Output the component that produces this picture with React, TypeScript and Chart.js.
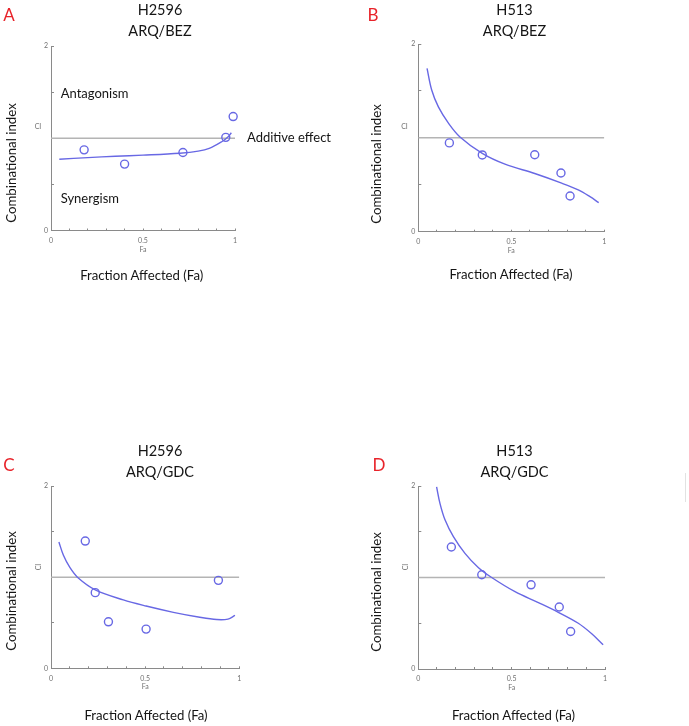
import React, { useEffect, useRef } from "react";
import { Chart, registerables } from "chart.js";

Chart.register(...registerables);

const faTickLabels = ["0", "0.5", "1"];
const ciTickLabels = ["0", "2"];
const additiveFa = [0, 1];
const additiveCi = [1, 1];

// Panel A: H2596 ARQ/BEZ
const aPointFa = [0.18, 0.4, 0.717, 0.95, 0.99];
const aPointCi = [0.874, 0.72, 0.845, 1.01, 1.235];
const aCurveFa = [0.045, 0.2, 0.35, 0.5, 0.7, 0.8, 0.86, 0.93, 0.96, 0.98];
const aCurveCi = [0.773, 0.79, 0.805, 0.817, 0.838, 0.86, 0.89, 0.965, 1.01, 1.06];

// Panel B: H513 ARQ/BEZ
const bPointFa = [0.167, 0.344, 0.626, 0.767, 0.816];
const bPointCi = [0.946, 0.818, 0.82, 0.626, 0.38];
const bCurveFa = [0.047, 0.072, 0.108, 0.161, 0.224, 0.344, 0.466, 0.626, 0.767, 0.86, 0.923, 0.97];
const bCurveCi = [1.74, 1.51, 1.33, 1.16, 1.01, 0.835, 0.72, 0.62, 0.52, 0.445, 0.373, 0.31];

// Panel C: H2596 ARQ/GDC
const cPointFa = [0.182, 0.235, 0.305, 0.505, 0.889];
const cPointCi = [1.396, 0.83, 0.51, 0.43, 0.965];
const cCurveFa = [0.042, 0.066, 0.1, 0.145, 0.235, 0.384, 0.505, 0.65, 0.79, 0.88, 0.94, 0.977];
const cCurveCi = [1.385, 1.24, 1.107, 0.99, 0.86, 0.75, 0.683, 0.614, 0.56, 0.535, 0.54, 0.58];

// Panel D: H513 ARQ/GDC
const dPointFa = [0.177, 0.34, 0.604, 0.755, 0.816];
const dPointCi = [1.333, 1.03, 0.92, 0.678, 0.41];
const dCurveFa = [0.098, 0.116, 0.143, 0.188, 0.25, 0.321, 0.393, 0.518, 0.643, 0.75, 0.857, 0.929, 0.99];
const dCurveCi = [1.99, 1.81, 1.63, 1.446, 1.264, 1.11, 1.0, 0.845, 0.726, 0.62, 0.5, 0.385, 0.265];

const BLUE = "rgb(104,104,228)";
const AXIS = "#8a8a8a";
const REF = "#b4b4b4";
const TICKTXT = "#707070";
const FONT = "Lato, 'Open Sans', sans-serif";

type PanelProps = {
  left: number;
  top: number;
  width: number;
  height: number;
  pad: { left: number; right: number; top: number; bottom: number };
  pointFa: number[];
  pointCi: number[];
  curveFa: number[];
  curveCi: number[];
};

const zip = (xs: number[], ys: number[]) => xs.map((x, i) => ({ x, y: ys[i] }));

function Panel(p: PanelProps) {
  const ref = useRef<HTMLCanvasElement | null>(null);
  useEffect(() => {
    if (!ref.current) return;
    const tickFmt = (labels: string[]) => (v: any) => {
      const s = String(Math.round(Number(v) * 100) / 100);
      return labels.includes(s) ? s : "";
    };
    const chart = new Chart(ref.current, {
      type: "scatter",
      data: {
        datasets: [
          {
            data: zip(p.pointFa, p.pointCi),
            showLine: false,
            pointRadius: 4,
            pointBorderWidth: 1.4,
            pointBorderColor: BLUE,
            pointBackgroundColor: "rgba(0,0,0,0)",
            clip: false as any,
          },
          {
            data: zip(p.curveFa, p.curveCi),
            showLine: true,
            pointRadius: 0,
            borderColor: BLUE,
            borderWidth: 1.4,
            tension: 0.35,
            clip: false as any,
          } as any,
          {
            data: zip(additiveFa, additiveCi),
            showLine: true,
            pointRadius: 0,
            borderColor: REF,
            borderWidth: 1.5,
          },
        ],
      },
      options: {
        animation: false,
        responsive: false,
        devicePixelRatio: 1,
        layout: { padding: p.pad },
        plugins: { legend: { display: false }, tooltip: { enabled: false } },
        events: [],
        scales: {
          x: {
            type: "linear",
            min: 0,
            max: 1,
            afterFit: (s: any) => {
              s.height = 24;
            },
            ticks: {
              stepSize: 0.1,
              autoSkip: false,
              maxRotation: 0,
              padding: 8,
              color: TICKTXT,
              font: { size: 7, family: FONT },
              callback: tickFmt(faTickLabels),
            },
            grid: { drawOnChartArea: false, drawTicks: true, tickLength: -2, color: AXIS },
            border: { color: AXIS, width: 1 },
            title: {
              display: true,
              text: "Fa",
              color: TICKTXT,
              font: { size: 7, family: FONT },
              padding: { top: 0, bottom: 1 },
            },
          },
          y: {
            type: "linear",
            min: 0,
            max: 2,
            afterFit: (s: any) => {
              s.width = 20;
            },
            ticks: {
              stepSize: 0.5,
              autoSkip: false,
              padding: 6,
              color: TICKTXT,
              font: { size: 7, family: FONT },
              callback: tickFmt(ciTickLabels),
            },
            grid: { drawOnChartArea: false, drawTicks: true, tickLength: -3, color: AXIS },
            border: { color: AXIS, width: 1 },
          },
        },
      } as any,
    });
    return () => chart.destroy();
  }, []);
  return (
    <canvas
      ref={ref}
      width={p.width}
      height={p.height}
      style={{ position: "absolute", left: p.left, top: p.top, width: p.width, height: p.height }}
    />
  );
}

const txt = (
  x: number,
  y: number,
  text: string,
  size: number,
  extra: React.CSSProperties = {},
  rotate = false
) => (
  <div
    key={text + x + "_" + y}
    style={{
      position: "absolute",
      left: x,
      top: y,
      transform: `translate(-50%, -50%)${rotate ? " rotate(-90deg)" : ""}`,
      fontFamily: FONT,
      fontSize: size,
      lineHeight: 1,
      whiteSpace: "nowrap",
      color: "#151515",
      ...extra,
    }}
  >
    {text}
  </div>
);

const left = (x: number, y: number, text: string, size: number, extra: React.CSSProperties = {}) => (
  <div
    key={text + x + "_" + y}
    style={{
      position: "absolute",
      left: x,
      top: y,
      transform: "translateY(-50%)",
      fontFamily: FONT,
      fontSize: size,
      lineHeight: 1,
      whiteSpace: "nowrap",
      color: "#151515",
      ...extra,
    }}
  >
    {text}
  </div>
);

export default function App() {
  const red = { color: "#e8232a" };
  const small = { color: TICKTXT };
  return (
    <div
      style={{
        position: "fixed",
        left: 0,
        top: 0,
        width: 689,
        height: 726,
        background: "#fff",
        overflow: "hidden",
      }}
    >
      <Panel
        left={0}
        top={0}
        width={345}
        height={300}
        pad={{ left: 31, right: 110, top: 46, bottom: 45.5 }}
        pointFa={aPointFa}
        pointCi={aPointCi}
        curveFa={aCurveFa}
        curveCi={aCurveCi}
      />
      <Panel
        left={345}
        top={0}
        width={344}
        height={300}
        pad={{ left: 53.3, right: 84.7, top: 44, bottom: 44.3 }}
        pointFa={bPointFa}
        pointCi={bPointCi}
        curveFa={bCurveFa}
        curveCi={bCurveCi}
      />
      <Panel
        left={0}
        top={360}
        width={345}
        height={366}
        pad={{ left: 31, right: 105.7, top: 126, bottom: 33.7 }}
        pointFa={cPointFa}
        pointCi={cPointCi}
        curveFa={cCurveFa}
        curveCi={cCurveCi}
      />
      <Panel
        left={345}
        top={360}
        width={344}
        height={366}
        pad={{ left: 53.3, right: 84, top: 126, bottom: 33 }}
        pointFa={dPointFa}
        pointCi={dPointCi}
        curveFa={dCurveFa}
        curveCi={dCurveCi}
      />

      {/* panel letters */}
      {txt(9, 14, "A", 17, red)}
      {txt(373, 14, "B", 17, red)}
      {txt(9, 464, "C", 17, red)}
      {txt(379, 464, "D", 17, red)}

      {/* titles */}
      {txt(160, 10, "H2596", 14.5)}
      {txt(160, 31, "ARQ/BEZ", 14.5)}
      {txt(514.5, 10, "H513", 14.5)}
      {txt(514.5, 31, "ARQ/BEZ", 14.5)}
      {txt(160, 451, "H2596", 14.5)}
      {txt(160, 472, "ARQ/GDC", 14.5)}
      {txt(514.5, 451, "H513", 14.5)}
      {txt(514.5, 472, "ARQ/GDC", 14.5)}

      {/* y titles */}
      {txt(12, 162.5, "Combinational index", 13.3, {}, true)}
      {txt(377, 163.5, "Combinational index", 13.3, {}, true)}
      {txt(12, 591, "Combinational index", 13.3, {}, true)}
      {txt(377, 591.5, "Combinational index", 13.3, {}, true)}

      {/* x titles */}
      {txt(141.7, 276, "Fraction Affected (Fa)", 13.2)}
      {txt(511, 275, "Fraction Affected (Fa)", 13.2)}
      {txt(146, 716, "Fraction Affected (Fa)", 13.2)}
      {txt(513.5, 716, "Fraction Affected (Fa)", 13.2)}

      {/* CI small labels */}
      {txt(38, 126, "CI", 7, small)}
      {txt(404.5, 126, "CI", 7, small)}
      {txt(37.5, 566.5, "CI", 7, small, true)}
      {txt(404.5, 566.5, "CI", 7, small, true)}

      {/* annotations in A */}
      {left(60.7, 93, "Antagonism", 13)}
      {left(60.7, 198, "Synergism", 13)}
      {left(247, 137, "Additive effect", 13)}

      <div style={{ position: "absolute", left: 685, top: 473, width: 1, height: 29, background: "#e2e2e2" }} />
    </div>
  );
}
